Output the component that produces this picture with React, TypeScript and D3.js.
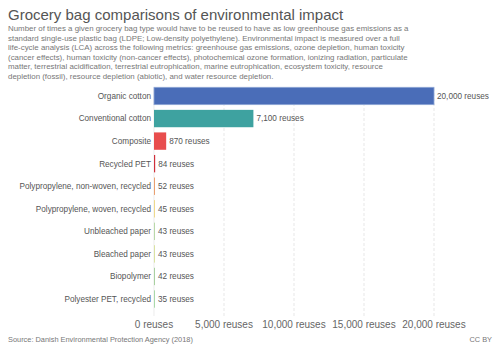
import React, { useRef, useEffect } from 'react';
import * as d3 from 'd3';

const categories = [
  'Organic cotton',
  'Conventional cotton',
  'Composite',
  'Recycled PET',
  'Polypropylene, non-woven, recycled',
  'Polypropylene, woven, recycled',
  'Unbleached paper',
  'Bleached paper',
  'Biopolymer',
  'Polyester PET, recycled',
];
const reuses = [20000, 7100, 870, 84, 52, 45, 43, 43, 42, 35];
const barColors = [
  '#4a6db8', '#3ea2a0', '#e84d4d', '#cf2f3a', '#eaa070',
  '#eed98c', '#b9d9a9', '#d9e2a1', '#a9d1a1', '#a9d9a9',
];
const xTicks = [0, 5000, 10000, 15000, 20000];
const subtitleLines = [
  'Number of times a given grocery bag type would have to be reused to have as low greenhouse gas emissions as a',
  'standard single-use plastic bag (LDPE; Low-density polyethylene). Environmental impact is measured over a full',
  'life-cycle analysis (LCA) across the following metrics: greenhouse gas emissions, ozone depletion, human toxicity',
  '(cancer effects), human toxicity (non-cancer effects), photochemical ozone formation, ionizing radiation, particulate',
  'matter, terrestrial acidification, terrestrial eutrophication, marine eutrophication, ecosystem toxicity, resource',
  'depletion (fossil), resource depletion (abiotic), and water resource depletion.',
];

const App = () => {
  const svgRef = useRef<SVGSVGElement>(null);

  useEffect(() => {
    const svg = d3.select(svgRef.current);
    svg.selectAll('*').remove();
    const font = '"Liberation Sans", Arial, sans-serif';
    const fmt = d3.format(',');

    const x = d3.scaleLinear().domain([0, 20000]).range([154, 434]);
    const y = d3.scaleBand().domain(categories).range([84.7, 310.3]).paddingInner(0.23).paddingOuter(0.115);

    // title + subtitle
    svg.append('text')
      .attr('x', 8).attr('y', 19.5)
      .attr('font-family', font).attr('font-size', 15)
      .attr('fill', '#555')
      .text('Grocery bag comparisons of environmental impact');

    svg.append('g')
      .selectAll('text')
      .data(subtitleLines)
      .enter()
      .append('text')
      .attr('x', 8)
      .attr('y', (d, i) => 31 + i * 9.5)
      .attr('font-family', font).attr('font-size', 7.9)
      .attr('fill', '#777')
      .text(d => d);

    // grid lines
    svg.append('g')
      .selectAll('line')
      .data(xTicks.slice(1))
      .enter()
      .append('line')
      .attr('x1', d => x(d)).attr('x2', d => x(d))
      .attr('y1', 88).attr('y2', 316)
      .attr('stroke', '#ddd')
      .attr('stroke-dasharray', '3,2')
      .attr('stroke-width', 0.7);

    svg.append('line')
      .attr('x1', x(0)).attr('x2', x(0))
      .attr('y1', 88).attr('y2', 316)
      .attr('stroke', '#e4e4e4')
      .attr('stroke-width', 0.7);

    // bars
    const rows = svg.append('g')
      .selectAll('g')
      .data(categories)
      .enter()
      .append('g');

    rows.append('rect')
      .attr('x', x(0))
      .attr('y', d => y(d)!)
      .attr('width', (d, i) => Math.max(1, x(reuses[i]) - x(0)))
      .attr('height', y.bandwidth())
      .attr('fill', (d, i) => barColors[i])
      .attr('stroke', (d, i) => (i === 0 ? '#8fa7d6' : 'none'))
      .attr('stroke-width', 0.8);

    rows.append('text')
      .attr('x', x(0) - 3)
      .attr('y', d => y(d)! + y.bandwidth() / 2)
      .attr('dy', '0.35em')
      .attr('text-anchor', 'end')
      .attr('font-family', font).attr('font-size', 8.2)
      .attr('fill', '#555')
      .text(d => d);

    rows.append('text')
      .attr('x', (d, i) => Math.max(x(0) + 1, x(reuses[i])) + 3)
      .attr('y', d => y(d)! + y.bandwidth() / 2)
      .attr('dy', '0.35em')
      .attr('font-family', font).attr('font-size', 8.2)
      .attr('fill', '#555')
      .text((d, i) => `${fmt(reuses[i])} reuses`);

    // x axis labels
    svg.append('g')
      .selectAll('text')
      .data(xTicks)
      .enter()
      .append('text')
      .attr('x', d => x(d))
      .attr('y', 328)
      .attr('text-anchor', 'middle')
      .attr('font-family', font).attr('font-size', 10)
      .attr('fill', '#666')
      .text(d => `${fmt(d)} reuses`);

    // footer
    svg.append('text')
      .attr('x', 8).attr('y', 342)
      .attr('font-family', font).attr('font-size', 7.4)
      .attr('fill', '#777')
      .text('Source: Danish Environmental Protection Agency (2018)');

    svg.append('text')
      .attr('x', 492).attr('y', 342)
      .attr('text-anchor', 'end')
      .attr('font-family', font).attr('font-size', 7.4)
      .attr('fill', '#777')
      .text('CC BY');
  }, []);

  return (
    <svg
      ref={svgRef}
      width={500}
      height={353}
      style={{ position: 'absolute', left: 0, top: 0, background: '#fff' }}
    />
  );
};

export default App;
